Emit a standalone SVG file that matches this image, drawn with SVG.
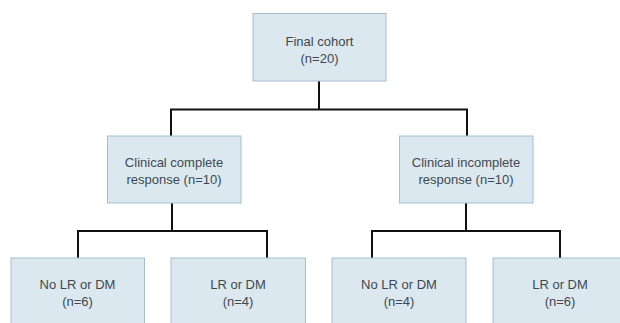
<svg xmlns="http://www.w3.org/2000/svg" width="620" height="323" viewBox="0 0 620 323">
<style>
.box{fill:#dbe8ef;stroke:#a3bfd1;stroke-width:1}
.t{font-family:"Liberation Sans",Arial,sans-serif;font-size:13px;fill:#3f4850;text-anchor:middle}
.c{fill:none;stroke:#111;stroke-width:2}
</style>
<rect width="620" height="323" fill="#ffffff"/>
<g id="connectors">
<path class="c" d="M319 81V109.5M171 109.5H467M171 108.5V136M467 108.5V136"/>
<path class="c" d="M172 203V231M78 231H267M78 230V258M267 230V258"/>
<path class="c" d="M466 203V231M372 231H560M372 230V258M560 230V258"/>
</g>
<g id="final">
<rect class="box" x="253" y="13.5" width="133" height="67.5"/>
<text class="t" x="319.5" y="45.5">Final cohort</text>
<text class="t" x="319.5" y="62.5">(n=20)</text>
</g>
<g id="ccr">
<rect class="box" x="107.5" y="136" width="133.5" height="67"/>
<text class="t" x="174" y="166.5">Clinical complete</text>
<text class="t" x="174" y="183.5">response (n=10)</text>
</g>
<g id="cir">
<rect class="box" x="399.5" y="136" width="133.5" height="67"/>
<text class="t" x="466" y="166.5">Clinical incomplete</text>
<text class="t" x="466" y="183.5">response (n=10)</text>
</g>
<g id="ccr-no">
<rect class="box" x="11" y="258" width="133.5" height="70"/>
<text class="t" x="77.5" y="288.5">No LR or DM</text>
<text class="t" x="77.5" y="305.5">(n=6)</text>
</g>
<g id="ccr-yes">
<rect class="box" x="171" y="258" width="134.5" height="70"/>
<text class="t" x="238" y="288.5">LR or DM</text>
<text class="t" x="238" y="305.5">(n=4)</text>
</g>
<g id="cir-no">
<rect class="box" x="332" y="258" width="134" height="70"/>
<text class="t" x="399" y="288.5">No LR or DM</text>
<text class="t" x="399" y="305.5">(n=4)</text>
</g>
<g id="cir-yes">
<rect class="box" x="493" y="258" width="134" height="70"/>
<text class="t" x="560" y="288.5">LR or DM</text>
<text class="t" x="560" y="305.5">(n=6)</text>
</g>
</svg>
